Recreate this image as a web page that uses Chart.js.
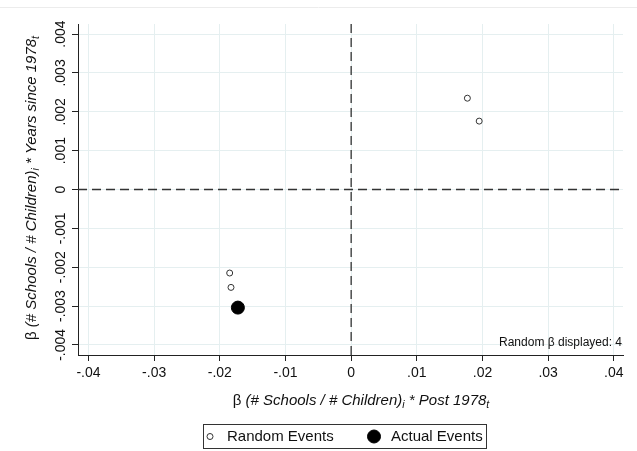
<!DOCTYPE html>
<html>
<head>
<meta charset="utf-8">
<script src="https://cdn.jsdelivr.net/npm/chart.js@4.4.1/dist/chart.umd.min.js"></script>
<style>
  html, body { margin: 0; padding: 0; background: #fff; }
  canvas { display: block; }
</style>
</head>
<body>
<canvas id="c" width="637" height="451"></canvas>
<script>
const FONT = '"Liberation Sans", Arial, sans-serif';

// valores
const randomX = [0.0177, 0.0195, -0.0185, -0.0183];
const randomY = [0.00235, 0.00176, -0.00215, -0.00252];
const actualX = [-0.01725];
const actualY = [-0.00304];

const xTicks = [-0.04, -0.03, -0.02, -0.01, 0, 0.01, 0.02, 0.03, 0.04];
const xTickLabels = ['-.04', '-.03', '-.02', '-.01', '0', '.01', '.02', '.03', '.04'];
const yTicks = [-0.004, -0.003, -0.002, -0.001, 0, 0.001, 0.002, 0.003, 0.004];
const yTickLabels = ['-.004', '-.003', '-.002', '-.001', '0', '.001', '.002', '.003', '.004'];

const seriesNames = ['Random Events', 'Actual Events'];
const noteText = 'Random β displayed: 4';

const toPts = (xs, ys) => xs.map((x, i) => ({ x: x, y: ys[i] }));

// texto con partes en cursiva / subíndice
function drawRich(ctx, parts, cx, cy, rot) {
    ctx.save();
    ctx.translate(cx, cy);
    if (rot) ctx.rotate(rot);
    let w = 0;
    parts.forEach(p => { ctx.font = p.font; w += ctx.measureText(p.t).width; });
    let x = -w / 2;
    ctx.fillStyle = '#111';
    ctx.textBaseline = 'middle';
    ctx.textAlign = 'left';
    parts.forEach(p => {
        ctx.font = p.font;
        ctx.fillText(p.t, x, p.dy || 0);
        x += ctx.measureText(p.t).width;
    });
    ctx.restore();
}

function titleParts(tail) {
    const up = '15px ' + FONT, it = 'italic 15px ' + FONT, sub = 'italic 10.5px ' + FONT;
    return [
        { t: 'β ', font: up },
        { t: '(# Schools / # Children)', font: it },
        { t: 'i', font: sub, dy: 4 },
        { t: ' * ' + tail, font: it },
        { t: 't', font: sub, dy: 4 }
    ];
}

const extras = {
    id: 'extras',
    beforeDraw(chart) {
        const ctx = chart.ctx;
        ctx.save();
        ctx.strokeStyle = '#ececec';
        ctx.lineWidth = 1;
        ctx.beginPath();
        ctx.moveTo(0, 7.5);
        ctx.lineTo(chart.width, 7.5);
        ctx.stroke();
        ctx.restore();
    },
    beforeDatasetsDraw(chart) {
        const ctx = chart.ctx, a = chart.chartArea;
        const x0 = chart.scales.x.getPixelForValue(0);
        const y0 = chart.scales.y.getPixelForValue(0);
        ctx.save();
        ctx.strokeStyle = '#333';
        ctx.lineWidth = 1.3;
        ctx.setLineDash([9, 5]);
        ctx.beginPath();
        ctx.moveTo(x0, a.top);
        ctx.lineTo(x0, a.bottom);
        ctx.moveTo(a.left, y0);
        ctx.lineTo(a.right, y0);
        ctx.stroke();
        ctx.restore();
    },
    afterDraw(chart) {
        const ctx = chart.ctx, a = chart.chartArea;
        const ys = chart.scales.y;

        // etiquetas del eje y, giradas
        ctx.save();
        ctx.font = '14px ' + FONT;
        ctx.fillStyle = '#111';
        ctx.textAlign = 'center';
        ctx.textBaseline = 'middle';
        yTicks.forEach((v, i) => {
            ctx.save();
            ctx.translate(61, ys.getPixelForValue(v));
            ctx.rotate(-Math.PI / 2);
            ctx.fillText(yTickLabels[i], 0, 0);
            ctx.restore();
        });
        ctx.restore();

        // títulos de ejes
        drawRich(ctx, titleParts('Post 1978'), 361, 401, 0);
        drawRich(ctx, titleParts('Years since 1978'), 32, 188, -Math.PI / 2);

        // nota
        ctx.save();
        ctx.font = '12px ' + FONT;
        ctx.fillStyle = '#111';
        ctx.textAlign = 'right';
        ctx.textBaseline = 'middle';
        ctx.fillText(noteText, a.right - 1, 343);
        ctx.restore();

        // leyenda con marco
        const ds = chart.data.datasets;
        ctx.save();
        ctx.strokeStyle = '#333';
        ctx.lineWidth = 1;
        ctx.strokeRect(203.5, 424.5, 283, 24);
        ctx.font = '15px ' + FONT;
        ctx.fillStyle = '#111';
        ctx.textAlign = 'left';
        ctx.textBaseline = 'middle';
        const ly = 436.5;
        const items = [{ cx: 210, tx: 227 }, { cx: 374, tx: 391 }];
        items.forEach((it, i) => {
            const d = ds[i];
            ctx.beginPath();
            ctx.arc(it.cx, ly, d.pointRadius, 0, Math.PI * 2);
            ctx.fillStyle = d.backgroundColor;
            ctx.fill();
            ctx.strokeStyle = d.borderColor;
            ctx.lineWidth = d.borderWidth;
            ctx.stroke();
            ctx.fillStyle = '#111';
            ctx.fillText(d.label, it.tx, ly);
        });
        ctx.restore();
    }
};

new Chart(document.getElementById('c'), {
    type: 'scatter',
    data: {
        datasets: [{
            label: seriesNames[0],
            data: toPts(randomX, randomY),
            pointRadius: 3,
            borderColor: '#333',
            backgroundColor: '#fff',
            borderWidth: 1
        }, {
            label: seriesNames[1],
            data: toPts(actualX, actualY),
            pointRadius: 6.5,
            borderColor: '#000',
            backgroundColor: '#000',
            borderWidth: 1
        }]
    },
    options: {
        responsive: false,
        animation: false,
        layout: { padding: { left: 0, right: 14, top: 24, bottom: 0 } },
        plugins: {
            legend: { display: false },
            tooltip: { enabled: false }
        },
        scales: {
            x: {
                type: 'linear',
                min: -0.0416,
                max: 0.0414,
                afterBuildTicks: s => { s.ticks = xTicks.map(v => ({ value: v })); },
                afterFit: s => { s.height = 96; },
                ticks: {
                    callback: (v, i) => xTickLabels[i],
                    font: { family: FONT, size: 14 },
                    color: '#111',
                    padding: 4,
                    maxRotation: 0
                },
                grid: { color: '#e5eff0', tickColor: '#222', tickLength: 6 },
                border: { display: true, color: '#222', width: 1 }
            },
            y: {
                type: 'linear',
                min: -0.00426,
                max: 0.00426,
                afterBuildTicks: s => { s.ticks = yTicks.map(v => ({ value: v })); },
                afterFit: s => { s.width = 78; },
                ticks: { display: false },
                grid: { color: '#e5eff0', tickColor: '#222', tickLength: 6 },
                border: { display: true, color: '#222', width: 1 }
            }
        }
    },
    plugins: [extras]
});
</script>
</body>
</html>
